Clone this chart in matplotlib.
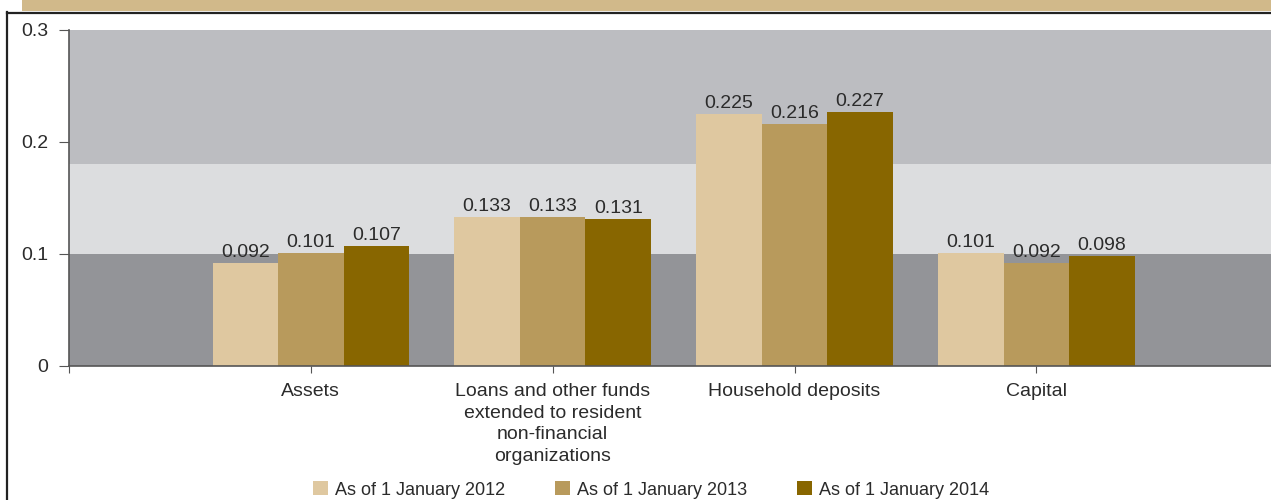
import numpy as np
import matplotlib
matplotlib.use("Agg")
import matplotlib.pyplot as plt
from matplotlib.patches import Rectangle, Patch
from matplotlib.lines import Line2D

plt.rcParams["font.family"] = ["Liberation Sans", "DejaVu Sans"]

# ----------------------------------------------------------------------
# data
# ----------------------------------------------------------------------
CATEGORIES = [
    "Assets",
    "Loans and other funds\nextended to resident\nnon-financial\norganizations",
    "Household deposits",
    "Capital",
]
SERIES = ["As of 1 January 2012", "As of 1 January 2013", "As of 1 January 2014"]
V2012 = [0.092, 0.133, 0.225, 0.101]
V2013 = [0.101, 0.133, 0.216, 0.092]
V2014 = [0.107, 0.131, 0.227, 0.098]
YTICKS = [0, 0.1, 0.2, 0.3]
YTICKLABELS = ["0", "0.1", "0.2", "0.3"]

COLORS = ["#dfc8a0", "#b89a5c", "#886600"]
BANDS = [(0.0, 0.1, "#939498"), (0.1, 0.18, "#dcdddf"), (0.18, 0.3, "#bcbdc1")]
TEXT = "#2b2b2b"
AXIS = "#555555"

fig = plt.figure(figsize=(12.71, 5.0), dpi=100)

# frame decoration: tan header strip + black border lines
fig.add_artist(Rectangle((22 / 1271, 489 / 500), 1, 11 / 500,
                         transform=fig.transFigure, color="#d1b98a", lw=0))
fig.add_artist(Line2D([7 / 1271, 1], [487.5 / 500, 487.5 / 500],
                      transform=fig.transFigure, color="#222222", lw=1.6))
fig.add_artist(Line2D([7 / 1271, 7 / 1271], [0, 488 / 500],
                      transform=fig.transFigure, color="#222222", lw=1.6))

ax = fig.add_axes([69 / 1271, 134 / 500, 1 - 69 / 1271, 336 / 500])

for lo, hi, c in BANDS:
    ax.axhspan(lo, hi, color=c, lw=0, zorder=0)

x = np.arange(len(CATEGORIES))
w = 0.271
for i, (vals, col) in enumerate(zip([V2012, V2013, V2014], COLORS)):
    bars = ax.bar(x + (i - 1) * w, vals, w, color=col, lw=0, zorder=2)
    for b, v in zip(bars, vals):
        ax.annotate(f"{v:.3f}", (b.get_x() + b.get_width() / 2, v),
                    xytext=(0, 1.5), textcoords="offset points",
                    ha="center", va="bottom", fontsize=14, color=TEXT)

ax.set_xlim(-1, 3.97)
ax.set_ylim(0, 0.3)
ax.set_yticks(YTICKS)
ax.set_yticklabels(YTICKLABELS, fontsize=14, color=TEXT)
ax.set_xticks([-1] + list(x))
ax.set_xticklabels([""] + CATEGORIES, fontsize=14, color=TEXT, linespacing=1.35)
ax.tick_params(axis="y", length=7.2, color=AXIS, pad=8)
ax.tick_params(axis="x", length=5, color=AXIS, pad=7.5)

for s in ["top", "right"]:
    ax.spines[s].set_visible(False)
for s in ["left", "bottom"]:
    ax.spines[s].set_color(AXIS)
    ax.spines[s].set_linewidth(1.2)
    ax.spines[s].set_zorder(3)

handles = [Patch(color=c, lw=0) for c in COLORS]
fig.legend(handles, SERIES, loc="center left", ncol=3,
           bbox_to_anchor=(297 / 1271, 10 / 500), frameon=False,
           fontsize=13, handlelength=0.83, handleheight=0.83,
           handletextpad=0.35, columnspacing=2.8, labelcolor=TEXT)

fig.savefig("out.png", dpi=100)
